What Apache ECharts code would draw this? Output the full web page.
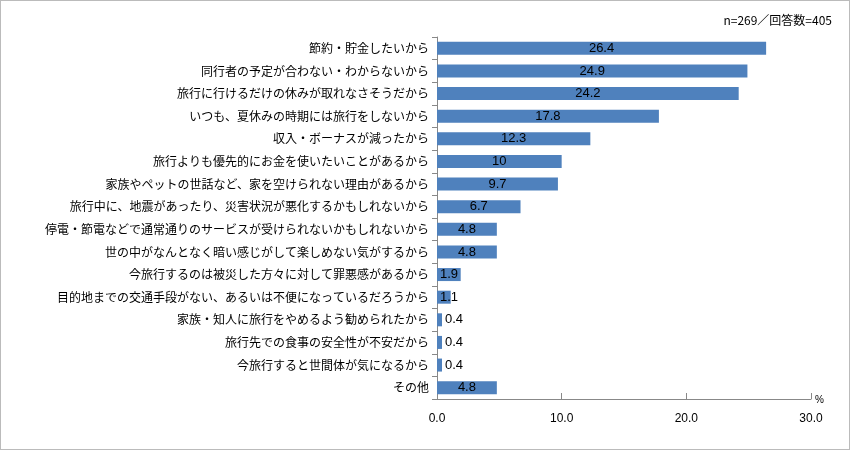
<!DOCTYPE html>
<html><head><meta charset="utf-8">
<script src="https://cdn.jsdelivr.net/npm/echarts@6/dist/echarts.min.js"></script>
<style>html,body{margin:0;padding:0;background:#fff}#c{width:850px;height:450px;box-sizing:border-box;border:1px solid #bbb}</style>
</head><body><div id="c"></div>
<script>
const categories=["節約・貯金したいから","同行者の予定が合わない・わからないから","旅行に行けるだけの休みが取れなさそうだから","いつも、夏休みの時期には旅行をしないから","収入・ボーナスが減ったから","旅行よりも優先的にお金を使いたいことがあるから","家族やペットの世話など、家を空けられない理由があるから","旅行中に、地震があったり、災害状況が悪化するかもしれないから","停電・節電などで通常通りのサービスが受けられないかもしれないから","世の中がなんとなく暗い感じがして楽しめない気がするから","今旅行するのは被災した方々に対して罪悪感があるから","目的地までの交通手段がない、あるいは不便になっているだろうから","家族・知人に旅行をやめるよう勧められたから","旅行先での食事の安全性が不安だから","今旅行すると世間体が気になるから","その他"];
const values=[26.4,24.9,24.2,17.8,12.3,10,9.7,6.7,4.8,4.8,1.9,1.1,0.4,0.4,0.4,4.8];
const xTicks=[0,10,20,30];
const chart=echarts.init(document.getElementById('c'));
const font='"Noto Sans CJK JP", sans-serif';
chart.setOption({
 animation:false,
 title:{text:'n=269／回答数=405',right:12,top:8,textStyle:{fontSize:12,fontWeight:'normal',color:'#000',fontFamily:font}},
 grid:{left:436,right:38,top:36,bottom:50},
 xAxis:{type:'value',min:0,max:30,interval:10,
  axisLine:{show:true,lineStyle:{color:'#888'}},axisTick:{show:true,length:6,inside:true,lineStyle:{color:'#888'}},splitLine:{show:false},
  axisLabel:{color:'#000',fontSize:12,margin:14,formatter:v=>xTicks.includes(v)?v.toFixed(1):''},
  name:'%',nameLocation:'end',nameGap:4,nameTextStyle:{fontSize:10,color:'#000',verticalAlign:'bottom',padding:[0,0,-6,0]}},
 yAxis:{type:'category',inverse:true,data:categories,
  axisLine:{lineStyle:{color:'#888'}},axisTick:{show:true,length:5,lineStyle:{color:'#888'}},
  axisLabel:{color:'#000',fontSize:12,fontFamily:font,margin:8}},
 series:[{type:'bar',barWidth:13,itemStyle:{color:'#4f81bd'},
  data:values.map(v=>({value:v,label:{show:true,color:'#000',fontSize:13,fontFamily:'Liberation Sans, sans-serif',
    position:v>=4?'inside':(v>=1?'insideLeft':'right'),offset:v>=1&&v<4?[-2,0]:[0,0],distance:v<1?3:5,
    formatter:String(v)}}))}]
});
</script></body></html>
